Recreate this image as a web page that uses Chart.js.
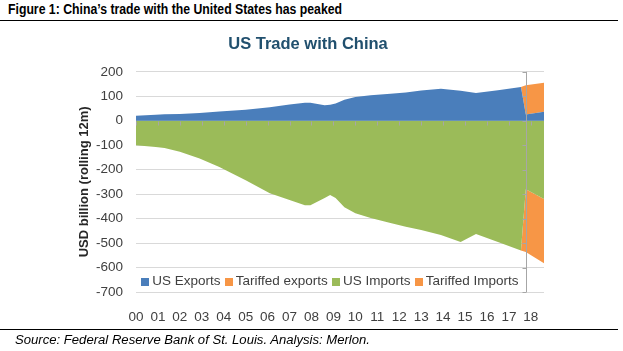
<!DOCTYPE html>
<html>
<head>
<meta charset="utf-8">
<script src="https://cdn.jsdelivr.net/npm/chart.js@4.4.1/dist/chart.umd.min.js"></script>
<style>
  html, body { margin: 0; padding: 0; background: #fff; }
  body { width: 623px; height: 351px; position: relative; overflow: hidden; font-family: "Liberation Sans", Arial, sans-serif; }
  #wrap { position: absolute; left: 0; top: 0; width: 623px; height: 351px; }
  .note { position: absolute; white-space: nowrap; transform-origin: 0 50%; color: #000; }
  #head { left: 8px; top: 2px; font-weight: bold; font-size: 14px; line-height: 15px; }
  #foot { left: 15px; top: 333px; font-style: italic; font-size: 12.5px; line-height: 14px; }
  .rule { position: absolute; left: 0; width: 618px; height: 1px; background: #000; }
</style>
</head>
<body>
<div id="head" class="note">Figure 1: China’s trade with the United States has peaked</div>
<div class="rule" style="top:20px"></div>
<div id="wrap"><canvas id="tradeChart"></canvas></div>
<div class="rule" style="top:329px"></div>
<div id="foot" class="note">Source: Federal Reserve Bank of St. Louis. Analysis: Merlon.</div>
<script>
// values (USD bn, rolling 12m)
const years = [2000.0, 2000.9, 2001.3, 2002.0, 2002.9, 2003.8, 2005.0, 2006.1, 2007.0, 2007.7,
               2007.95, 2008.6, 2008.85, 2009.1, 2009.5, 2010.0, 2010.7, 2011.6, 2012.3, 2013.0,
               2013.9, 2014.8, 2015.5, 2016.5, 2017.55, 2017.77, 2018.6];
const usExports = [20, 24, 26, 28, 32, 38, 45, 55, 66, 73,
                   74, 63, 65, 70, 86, 97, 104, 110, 115, 124,
                   131, 123, 113, 125, 138, 25, 37];
const tariffedExports = [0, 0, 0, 0, 0, 0, 0, 0, 0, 0,
                         0, 0, 0, 0, 0, 0, 0, 0, 0, 0,
                         0, 0, 0, 0, 0, 120, 118];
const usImports = [-100, -107, -111, -127, -154, -189, -243, -296, -324, -345,
                   -345, -316, -304, -316, -354, -378, -398, -418, -433, -447,
                   -467, -496, -463, -496, -530, -280, -320];
const tariffedImports = [0, 0, 0, 0, 0, 0, 0, 0, 0, 0,
                         0, 0, 0, 0, 0, 0, 0, 0, 0, 0,
                         0, 0, 0, 0, 0, -257, -262];
const tickLabels = ['00', '01', '02', '03', '04', '05', '06', '07', '08', '09',
                    '10', '11', '12', '13', '14', '15', '16', '17', '18'];
const firstYear = 2000;
const tariffStart = 2017.77;

const BLUE = '#4a7ebb', ORANGE = '#f79646', GREEN = '#9bbb59';
const FONT = '"Liberation Sans", Arial, sans-serif';
const TEXT = '#404040';
const AXIS_GREY = '#a6a6a6';

Chart.defaults.font.family = FONT;

// stretch the Calibri-ish notes to the width they have in the picture
function fitWidth(id, w) {
  const el = document.getElementById(id);
  el.style.transform = 'scaleX(' + (w / el.getBoundingClientRect().width) + ')';
}
fitWidth('head', 334);
fitWidth('foot', 355);

function swatch(color) {
  const c = document.createElement('canvas');
  c.width = 8; c.height = 8;
  const g = c.getContext('2d');
  g.fillStyle = color;
  g.fillRect(0, 0, 8, 8);
  return c;
}

function series(label, values, color, fill, stack) {
  return {
    label: label,
    stack: stack,
    fill: fill,
    data: years.map((x, i) => ({ x: x, y: values[i] })),
    backgroundColor: color,
    borderColor: 'rgba(0,0,0,0)',
    borderWidth: 0,
    pointRadius: 0,
    pointStyle: swatch(color),
    tension: 0
  };
}

// legend sits inside the plot, just above the -700 line
const legendInPlot = {
  id: 'legendInPlot',
  afterLayout(chart) {
    const lg = chart.legend;
    lg.left = 137;
    lg.right = 620;
    lg.top = 267;
    lg.bottom = 297;
  }
};

// year tick marks on the zero line + the divider where the tariff split starts
const axisMarks = {
  id: 'axisMarks',
  afterDatasetsDraw(chart) {
    const { ctx, chartArea, scales: { x, y } } = chart;
    const y0 = Math.round(y.getPixelForValue(0)) + 0.5;
    ctx.save();
    ctx.strokeStyle = AXIS_GREY;
    ctx.lineWidth = 1;
    ctx.beginPath();
    tickLabels.forEach((_, i) => {
      const px = Math.round(x.getPixelForValue(firstYear + i)) + 0.5;
      ctx.moveTo(px, y0);
      ctx.lineTo(px, y0 + 4);
    });
    const dx = Math.round(x.getPixelForValue(tariffStart)) + 0.5;
    ctx.moveTo(dx, chartArea.top);
    ctx.lineTo(dx, chartArea.bottom);
    y.ticks.forEach(t => {
      const py = Math.round(y.getPixelForValue(t.value)) + 0.5;
      ctx.moveTo(dx, py);
      ctx.lineTo(dx - 4, py);
    });
    ctx.stroke();
    ctx.restore();
  }
};

new Chart(document.getElementById('tradeChart').getContext('2d'), {
  type: 'line',
  data: {
    datasets: [
      series('US Exports', usExports, BLUE, 'origin', 'exports'),
      series('Tariffed exports', tariffedExports, ORANGE, '-1', 'exports'),
      series('US Imports', usImports, GREEN, 'origin', 'imports'),
      series('Tariffed Imports', tariffedImports, ORANGE, '-1', 'imports')
    ]
  },
  options: {
    responsive: true,
    maintainAspectRatio: false,
    devicePixelRatio: 1,
    animation: false,
    events: [],
    layout: { padding: { left: 72, right: 79, top: 35, bottom: 28 } },
    plugins: {
      title: {
        display: true,
        text: 'US Trade with China',
        color: '#21506e',
        font: { size: 16.5, weight: 'bold' },
        padding: { top: 0, bottom: 17 }
      },
      legend: {
        position: 'bottom',
        align: 'start',
        maxHeight: 1,
        labels: {
          usePointStyle: true,
          pointStyleWidth: 0.5,
          padding: 8,
          color: TEXT,
          font: { size: 13.5 }
        }
      },
      tooltip: { enabled: false }
    },
    scales: {
      x: {
        type: 'linear',
        min: firstYear,
        max: 2018.6,
        grid: { display: false },
        border: { display: false },
        ticks: {
          padding: 9,
          maxRotation: 0,
          autoSkip: false,
          color: TEXT,
          font: { size: 13.5 },
          callback: v => tickLabels[Math.round(v) - firstYear] || ''
        },
        afterBuildTicks: s => { s.ticks = tickLabels.map((_, i) => ({ value: firstYear + i })); },
        afterFit: s => { s.height = 30; }
      },
      y: {
        stacked: true,
        min: -700,
        max: 200,
        grid: { color: '#d9d9d9', drawTicks: false },
        border: { display: false },
        ticks: { stepSize: 100, padding: 13, color: TEXT, font: { size: 13.5 } },
        title: {
          display: true,
          text: 'USD billion (rolling 12m)',
          color: '#262626',
          font: { size: 13, weight: 'bold' },
          padding: { top: 5, bottom: 0 }
        },
        afterFit: s => { s.width = 64; }
      }
    }
  },
  plugins: [legendInPlot, axisMarks]
});
</script>
</body>
</html>
